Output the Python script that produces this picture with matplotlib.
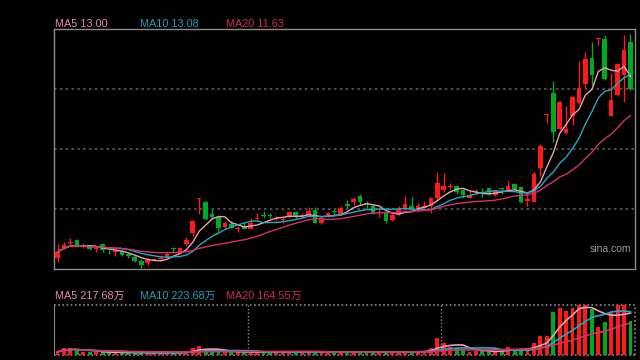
import numpy as np
import pandas as pd
import matplotlib
matplotlib.use('Agg')
import matplotlib.pyplot as plt

# daily candles
opens = [6.98, 7.31, 7.47, 7.56, 7.32, 7.32, 7.27, 7.43, 7.17, 7.15,
         7.20, 7.10, 7.01, 6.88, 6.82, 6.89, 6.94, 7.00, 7.28, 7.14,
         7.43, 7.79, 8.88, 8.80, 8.40, 8.30, 7.99, 8.08, 7.90, 7.99,
         7.92, 8.23, 8.38, 8.35, 8.25, 8.22, 8.30, 8.47, 8.31, 8.37,
         8.53, 8.10, 8.36, 8.48, 8.40, 8.73, 8.80, 8.99, 8.76, 8.66,
         8.42, 8.43, 8.21, 8.40, 8.59, 8.66, 8.57, 8.59, 8.67, 8.93,
         9.19, 9.28, 9.32, 9.19, 8.93, 9.08, 9.11, 9.24, 9.02, 9.24,
         9.16, 9.38, 9.27, 8.84, 8.80, 9.91, 11.64, 12.36, 11.17, 11.05,
         11.60, 12.03, 12.64, 13.50, 14.11, 14.11, 11.60, 12.28, 12.93, 14.00]
closes = [7.17, 7.40, 7.50, 7.34, 7.36, 7.25, 7.31, 7.23, 7.15, 7.19,
          7.08, 7.03, 6.87, 6.74, 6.89, 6.91, 6.98, 7.11, 7.25, 7.30,
          7.56, 8.18, 8.91, 8.24, 8.31, 7.96, 8.12, 7.96, 7.93, 7.92,
          8.12, 8.28, 8.35, 8.33, 8.27, 8.24, 8.46, 8.32, 8.37, 8.50,
          8.12, 8.24, 8.44, 8.46, 8.59, 8.67, 8.89, 8.79, 8.74, 8.43,
          8.44, 8.18, 8.37, 8.56, 8.73, 8.53, 8.66, 8.66, 8.91, 9.42,
          9.32, 9.30, 9.13, 9.02, 9.02, 9.13, 9.05, 9.06, 9.15, 9.22,
          9.32, 9.21, 8.80, 8.89, 9.71, 10.62, 11.65, 11.09, 12.06, 11.17,
          12.20, 12.52, 13.45, 12.93, 14.13, 12.80, 12.12, 13.28, 13.75, 12.48]
highs = [7.42, 7.48, 7.63, 7.59, 7.45, 7.34, 7.37, 7.45, 7.22, 7.25,
         7.22, 7.14, 7.05, 6.94, 6.96, 6.96, 7.06, 7.17, 7.34, 7.34,
         7.65, 8.21, 8.92, 8.84, 8.56, 8.32, 8.15, 8.19, 8.02, 8.10,
         8.28, 8.45, 8.50, 8.43, 8.35, 8.32, 8.51, 8.50, 8.45, 8.62,
         8.62, 8.27, 8.48, 8.57, 8.66, 8.86, 8.95, 9.05, 8.83, 8.70,
         8.59, 8.48, 8.43, 8.66, 8.99, 8.95, 8.75, 8.84, 8.97, 9.76,
         9.73, 9.40, 9.35, 9.22, 9.16, 9.22, 9.24, 9.26, 9.21, 9.25,
         9.49, 9.42, 9.29, 9.08, 9.78, 10.68, 11.65, 12.74, 12.10, 11.93,
         12.25, 13.39, 13.69, 14.02, 14.13, 14.22, 12.99, 13.32, 14.24, 14.27]
lows = [6.85, 7.26, 7.37, 7.32, 7.29, 7.23, 7.17, 7.17, 7.11, 7.04,
        7.03, 6.98, 6.85, 6.65, 6.74, 6.86, 6.87, 6.96, 7.14, 7.12,
        7.36, 7.69, 8.40, 8.22, 8.28, 7.83, 7.90, 7.94, 7.81, 7.90,
        7.90, 8.21, 8.26, 8.26, 8.19, 8.10, 8.26, 8.26, 8.28, 8.34,
        8.10, 8.08, 8.32, 8.37, 8.37, 8.59, 8.70, 8.70, 8.56, 8.40,
        8.32, 8.10, 8.18, 8.37, 8.53, 8.51, 8.48, 8.57, 8.45, 8.86,
        9.13, 9.21, 9.05, 8.93, 8.91, 9.02, 8.97, 9.02, 9.00, 9.06,
        9.14, 9.19, 8.77, 8.67, 8.79, 9.64, 11.36, 10.74, 11.14, 11.00,
        11.31, 11.99, 12.50, 12.61, 13.91, 12.77, 11.58, 12.26, 12.06, 12.45]
# volume in 万 shares
volumes = [17, 36, 36, 27, 17, 14, 17, 14, 12, 14,
           12, 12, 12, 12, 12, 11, 12, 14, 12, 14,
           21, 37, 48, 32, 18, 18, 17, 17, 14, 14,
           14, 15, 16, 14, 15, 14, 17, 16, 15, 16,
           18, 15, 14, 15, 17, 16, 15, 16, 15, 17,
           17, 17, 9, 17, 21, 21, 17, 17, 35, 92,
           65, 44, 32, 32, 17, 21, 21, 18, 18, 21,
           44, 32, 32, 24, 62, 100, 100, 228, 249, 235,
           249, 265, 265, 242, 150, 175, 224, 265, 265, 182]

ma_labels = ['MA5 13.00', 'MA10 13.08', 'MA20 11.63']
vol_labels = ['MA5 217.68万', 'MA10 223.68万', 'MA20 164.55万']
ma_colors = ['#e8a0b4', '#22a8c4', '#d8306a']
label_colors = ['#e08ca0', '#1ea0b4', '#d2285a']
periods = [5, 10, 20]

UP = '#ff1a1a'
DOWN = '#00aa1e'
FRAME = '#8a8a8a'
GRID = '#5c5c5c'
FONT = ['Liberation Sans', 'Noto Sans CJK SC', 'DejaVu Sans']

n = len(closes)
x = np.arange(n)
o = np.array(opens); c = np.array(closes)
h = np.array(highs); l = np.array(lows)
up = c >= o
cols = np.where(up, UP, DOWN)

fig = plt.figure(figsize=(6.4, 3.6), dpi=100, facecolor='black')
ax = fig.add_axes([54/640, 1-269/360, 581/640, 240/360])
av = fig.add_axes([54/640, 1-355/360, 581/640, 50/360])

xlim = (-0.55, 89.7)
p_lo, p_hi = 6.61, 14.43

for a in (ax, av):
    a.set_facecolor('black')
    a.set_xlim(*xlim)
    a.set_xticks([]); a.set_yticks([])

# price panel
for s in ax.spines.values():
    s.set_color(FRAME); s.set_linewidth(1)
ax.set_ylim(p_lo, p_hi)
for k in (1, 2, 3):
    ax.axhline(p_lo + (p_hi - p_lo) * k / 4, color=GRID, lw=1.2,
               ls=(0, (1.5, 2)), zorder=0)

ax.vlines(x, l, h, colors=cols, lw=1, zorder=2)
body = np.maximum(np.abs(c - o), 0.03)
ax.bar(x, body, bottom=np.minimum(o, c), width=0.72, color=cols,
       lw=0, zorder=3)

cs = pd.Series(closes)
for per, col in zip(periods, ma_colors):
    ax.plot(x, cs.rolling(per, min_periods=1).mean(), color=col, lw=1,
            zorder=4)

ax.text(0.993, 0.085, 'sina.com', transform=ax.transAxes, ha='right',
        va='center', color='#9a9a9a', fontsize=7.5, family=FONT)

for lab, col, px in zip(ma_labels, label_colors, [55, 140, 225.5]):
    fig.text(px/640, 1-24/360, lab, color=col, fontsize=7.8, family=FONT,
             ha='left', va='center')

# volume panel
av.set_ylim(0, 265)
av.spines['left'].set_color(FRAME)
for side in ('top', 'right', 'bottom'):
    av.spines[side].set_visible(False)
dots = (0, (1, 1.5))
av.axhline(265, color=FRAME, lw=1.2, ls=dots, clip_on=False)
av.axhline(0, color=FRAME, lw=1.2, ls=dots, clip_on=False)
av.axvline(xlim[1], color=FRAME, lw=1.2, ls=dots, clip_on=False)
for xv in (29.65, 59.6):
    av.axvline(xv, color=FRAME, lw=1, ls=dots, zorder=0)

av.bar(x, volumes, width=0.6, color=cols, lw=0, zorder=2)
vs = pd.Series(volumes)
for per, col in zip(periods, ma_colors):
    av.plot(x, vs.rolling(per, min_periods=1).mean(), color=col, lw=1.2,
            zorder=3)

for lab, col, px in zip(vol_labels, label_colors, [55, 140.5, 225.5]):
    fig.text(px/640, 1-295.5/360, lab, color=col, fontsize=7.8, family=FONT,
             ha='left', va='center')

fig.savefig('out.png', dpi=100, facecolor='black')
